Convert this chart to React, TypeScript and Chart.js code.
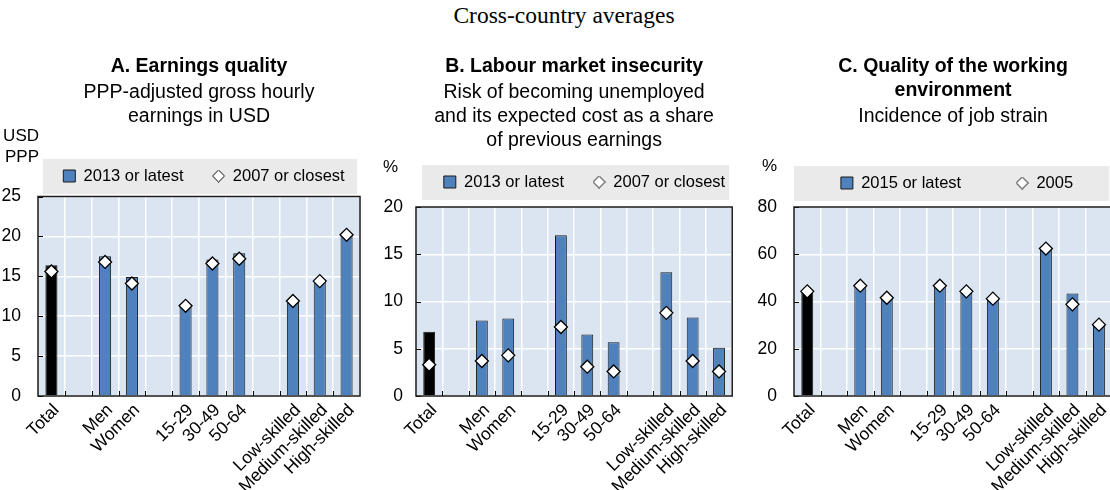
import React, { useEffect, useRef } from 'react';
import { Chart, registerables } from 'chart.js';

Chart.register(...registerables);

const FONT = "'Liberation Sans', Arial, Helvetica, sans-serif";
Chart.defaults.font.family = FONT;
Chart.defaults.color = '#000';

// ---------- data ----------
const categories = ['Total', '', 'Men', 'Women', '', '15-29', '30-49', '50-64', '', 'Low-skilled', 'Medium-skilled', 'High-skilled'];

const earningsLatest = [16.4, null, 17.5, 14.9, null, 11.5, 17.1, 17.9, null, 12.1, 14.6, 20.3];
const earningsEarlier = [15.6, null, 16.8, 14.1, null, 11.3, 16.6, 17.2, null, 11.9, 14.4, 20.2];
const earningsTicks = [0, 5, 10, 15, 20, 25];

const insecurityLatest = [6.8, null, 8.0, 8.2, null, 17.0, 6.5, 5.7, null, 13.1, 8.3, 5.1];
const insecurityEarlier = [3.3, null, 3.7, 4.3, null, 7.3, 3.1, 2.6, null, 8.8, 3.7, 2.6];
const insecurityTicks = [0, 5, 10, 15, 20];

const strainLatest = [44.0, null, 46.2, 41.2, null, 46.4, 43.6, 41.0, null, 62.0, 43.4, 29.6];
const strainEarlier = [44.3, null, 46.7, 41.6, null, 46.7, 44.3, 41.2, null, 62.4, 38.8, 30.2];
const strainTicks = [0, 20, 40, 60, 80];

const legendA = ['2013 or latest', '2007 or closest'];
const legendB = ['2013 or latest', '2007 or closest'];
const legendC = ['2015 or latest', '2005'];

const BLUE = '#4F81BD';
const PLOT_BG = '#DBE5F1';
const BAND_BG = '#EAEAEA';
const barColors = categories.map((_, i) => (i === 0 ? '#000000' : BLUE));
const LEGEND_FS = 16.5;

// small diamond icon for legend
const diamondIcon = (() => {
  const c = document.createElement('canvas');
  c.width = 13;
  c.height = 13;
  const g = c.getContext('2d')!;
  g.beginPath();
  g.moveTo(6.5, 0.5);
  g.lineTo(12.5, 6.5);
  g.lineTo(6.5, 12.5);
  g.lineTo(0.5, 6.5);
  g.closePath();
  g.fillStyle = '#fff';
  g.fill();
  g.strokeStyle = '#000';
  g.lineWidth = 1;
  g.stroke();
  return c;
})();

const panelDecor = {
  id: 'panelDecor',
  afterLayout(chart: any, _a: any, o: any) {
    const lg = chart.legend;
    if (!lg) return;
    const h = lg.height;
    const w = lg.width;
    lg.top = o.legendCenterY - o.legendPad - LEGEND_FS / 2;
    lg.bottom = lg.top + h;
    lg.left = o.legendCenterX - w / 2;
    lg.right = lg.left + w;
  },
  beforeDraw(chart: any, _a: any, o: any) {
    const { ctx, chartArea: a } = chart;
    ctx.save();
    ctx.fillStyle = PLOT_BG;
    ctx.fillRect(a.left, a.top, a.right - a.left, a.bottom - a.top);
    ctx.fillStyle = BAND_BG;
    ctx.fillRect(a.left + o.bandInsetLeft, o.legendCenterY - 17, a.right - a.left - o.bandInsetLeft - 3, 35);
    ctx.restore();
  },
  beforeDatasetsDraw(chart: any) {
    const { ctx, chartArea: a } = chart;
    const xs = chart.scales.x;
    const ys = chart.scales.y;
    ctx.save();
    ctx.strokeStyle = '#000';
    ctx.lineWidth = 1;
    ctx.beginPath();
    const n = categories.length;
    for (let i = 0; i < n - 1; i++) {
      const bx = Math.round((xs.getPixelForValue(i) + xs.getPixelForValue(i + 1)) / 2) + 0.5;
      ctx.moveTo(bx, a.bottom);
      ctx.lineTo(bx, a.bottom - 5);
    }
    ys.ticks.forEach((t: any) => {
      const py = Math.round(ys.getPixelForValue(t.value)) + 0.5;
      ctx.moveTo(a.left, py);
      ctx.lineTo(a.left + 5, py);
    });
    ctx.stroke();
    ctx.lineWidth = 1.5;
    ctx.strokeStyle = '#1a1a1a';
    ctx.strokeRect(a.left, a.top, a.right - a.left, a.bottom - a.top);
    ctx.restore();
  },
  afterDraw(chart: any, _a: any, o: any) {
    const { ctx } = chart;
    ctx.save();
    ctx.font = `17px ${FONT}`;
    ctx.fillStyle = '#000';
    ctx.textAlign = 'right';
    ctx.textBaseline = 'middle';
    o.unitLines.forEach((s: string, i: number) => ctx.fillText(s, o.unitX, o.unitY[i]));
    ctx.restore();
  },
};

type Spec = {
  left: number;
  width: number;
  title: string[];
  subtitle: string[];
  subPadBottom: number;
  legendLabels: string[];
  legendPad: number;
  legendMaxHeight?: number;
  legendCenterY: number;
  legendCenterX: number;
  bandInsetLeft: number;
  unitLines: string[];
  unitX: number;
  unitY: number[];
  latest: (number | null)[];
  earlier: (number | null)[];
  ticks: number[];
  axisWidth: number;
  tickPad: number;
  padRight: number;
};

const specs: Spec[] = [
  {
    left: 0,
    width: 370,
    title: ['A. Earnings quality'],
    subtitle: ['PPP-adjusted gross hourly', 'earnings in USD'],
    subPadBottom: 12,
    legendLabels: legendA,
    legendPad: 29,
    legendCenterY: 176,
    legendCenterX: 204,
    bandInsetLeft: 5,
    unitLines: ['USD', 'PPP'],
    unitX: 39,
    unitY: [136, 157],
    latest: earningsLatest,
    earlier: earningsEarlier,
    ticks: earningsTicks,
    axisWidth: 38,
    tickPad: 17,
    padRight: 10,
  },
  {
    left: 370,
    width: 370,
    title: ['B. Labour market insecurity'],
    subtitle: ['Risk of becoming unemployed', 'and its expected cost as a share', 'of previous earnings'],
    subPadBottom: 0,
    legendLabels: legendB,
    legendPad: 29,
    legendMaxHeight: 54,
    legendCenterY: 182,
    legendCenterX: 214.5,
    bandInsetLeft: 6,
    unitLines: ['%'],
    unitX: 28,
    unitY: [167],
    latest: insecurityLatest,
    earlier: insecurityEarlier,
    ticks: insecurityTicks,
    axisWidth: 46,
    tickPad: 13,
    padRight: 1,
  },
  {
    left: 740,
    width: 380,
    title: ['C. Quality of the working', 'environment'],
    subtitle: ['Incidence of job strain'],
    subPadBottom: 0,
    legendLabels: legendC,
    legendPad: 55,
    legendMaxHeight: 78,
    legendCenterY: 183,
    legendCenterX: 217,
    bandInsetLeft: 0,
    unitLines: ['%'],
    unitX: 37,
    unitY: [166],
    latest: strainLatest,
    earlier: strainEarlier,
    ticks: strainTicks,
    axisWidth: 54,
    tickPad: 17,
    padRight: 4,
  },
];

function makeConfig(s: Spec): any {
  const tMin = s.ticks[0];
  const tMax = s.ticks[s.ticks.length - 1];
  const step = s.ticks[1] - s.ticks[0];
  return {
    type: 'bar',
    data: {
      labels: categories,
      datasets: [
        {
          type: 'bar',
          label: s.legendLabels[0],
          data: s.latest,
          backgroundColor: barColors,
          borderColor: '#1a1a1a',
          borderWidth: 1,
          categoryPercentage: 0.45,
          barPercentage: 1,
          order: 2,
        },
        {
          type: 'line',
          label: s.legendLabels[1],
          data: s.earlier,
          showLine: false,
          pointStyle: 'rectRot',
          pointRadius: 6.5,
          pointHoverRadius: 6.5,
          pointBackgroundColor: '#ffffff',
          pointBorderColor: '#000000',
          pointBorderWidth: 1.3,
          order: 1,
        },
      ],
    },
    options: {
      responsive: false,
      animation: false,
      events: [],
      layout: { padding: { left: 0, right: s.padRight, top: 0, bottom: 0 } },
      plugins: {
        title: {
          display: true,
          text: s.title,
          fullSize: false,
          color: '#000',
          font: { size: 19.5, weight: 'bold', family: FONT, lineHeight: '24px' },
          padding: { top: 55, bottom: 2 },
        },
        subtitle: {
          display: true,
          text: s.subtitle,
          fullSize: false,
          color: '#000',
          font: { size: 19.5, weight: 'normal', family: FONT, lineHeight: '24px' },
          padding: { top: 0, bottom: s.subPadBottom },
        },
        legend: {
          display: true,
          position: 'top',
          fullSize: true,
          maxHeight: s.legendMaxHeight,
          labels: {
            usePointStyle: true,
            boxWidth: 12,
            boxHeight: 12,
            padding: s.legendPad,
            color: '#000',
            font: { size: LEGEND_FS, family: FONT },
            generateLabels: () =>
              s.legendLabels.map((t, i) => ({
                text: t,
                fillStyle: i === 0 ? BLUE : '#ffffff',
                strokeStyle: '#1a1a1a',
                lineWidth: 1,
                pointStyle: i === 0 ? 'rect' : diamondIcon,
                hidden: false,
                datasetIndex: i,
                fontColor: '#000',
              })),
          },
        },
        tooltip: { enabled: false },
        panelDecor: {
          legendCenterY: s.legendCenterY,
          legendCenterX: s.legendCenterX,
          legendPad: s.legendPad,
          bandInsetLeft: s.bandInsetLeft,
          unitLines: s.unitLines,
          unitX: s.unitX,
          unitY: s.unitY,
        },
      },
      scales: {
        x: {
          grid: { color: '#ffffff', lineWidth: 1.5, drawTicks: false, offset: true },
          border: { display: false },
          ticks: {
            color: '#000',
            font: { size: 17.5, family: FONT },
            maxRotation: 45,
            minRotation: 45,
            autoSkip: false,
            padding: 4,
            labelOffset: 5,
          },
          afterFit: (sc: any) => {
            sc.height = 94;
          },
        },
        y: {
          min: tMin,
          max: tMax,
          grid: { color: '#ffffff', lineWidth: 1.5, drawTicks: false },
          border: { display: false },
          ticks: {
            stepSize: step,
            color: '#000',
            font: { size: 17.5, family: FONT },
            padding: s.tickPad,
          },
          afterFit: (sc: any) => {
            sc.width = s.axisWidth;
          },
        },
      },
    },
    plugins: [panelDecor],
  };
}

function Panel({ spec }: { spec: Spec }) {
  const ref = useRef<HTMLCanvasElement>(null);
  useEffect(() => {
    if (!ref.current) return;
    const chart = new Chart(ref.current, makeConfig(spec));
    return () => chart.destroy();
  }, [spec]);
  return (
    <div style={{ position: 'absolute', left: spec.left, top: 0, width: spec.width, height: 490 }}>
      <canvas ref={ref} width={spec.width} height={490} style={{ display: 'block' }} />
    </div>
  );
}

export default function App() {
  return (
    <div
      style={{
        position: 'absolute',
        left: 0,
        top: 0,
        width: 1110,
        height: 490,
        overflow: 'hidden',
        background: '#fff',
      }}
    >
      <div
        style={{
          position: 'absolute',
          top: 4,
          left: 18,
          width: 1092,
          textAlign: 'center',
          fontFamily: "'Liberation Serif', 'Times New Roman', serif",
          fontSize: 23.5,
          lineHeight: '23.5px',
          color: '#000',
          whiteSpace: 'nowrap',
        }}
      >
        Cross-country averages
      </div>
      {specs.map((s, i) => (
        <Panel key={i} spec={s} />
      ))}
    </div>
  );
}
